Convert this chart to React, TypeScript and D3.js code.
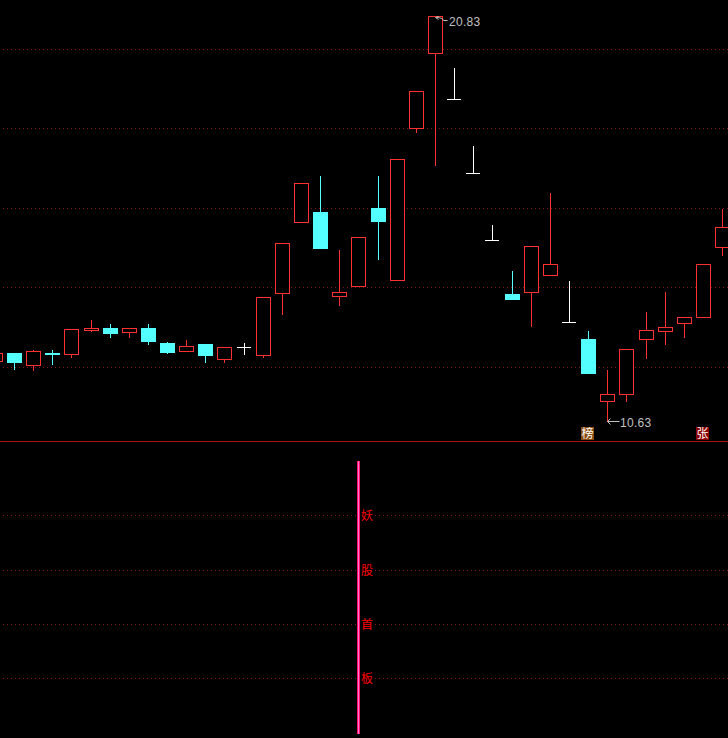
import React from "react";
import * as d3 from "d3";

const W = 728;
const H = 738;

// index -1 is the half-visible candle at the left edge
const indices = d3.range(-1, 38);
const opens = [12.15,12.35,12.05,12.35,12.33,12.93,12.98,12.88,12.98,12.60,12.40,12.58,12.20,12.50,12.30,13.86,15.65,15.90,13.79,14.04,16.00,14.19,18.01,19.90,18.74,16.88,15.20,13.84,13.89,14.31,13.13,12.70,11.14,11.32,12.70,12.91,13.11,13.26,15.02];
const closes = [12.35,12.13,12.40,12.33,12.96,12.98,12.86,12.98,12.65,12.38,12.53,12.30,12.50,12.50,13.76,15.12,16.63,14.99,13.89,15.27,15.67,17.23,18.94,20.83,18.74,16.88,15.20,13.71,15.04,14.59,13.13,11.85,11.32,12.45,12.93,13.01,13.26,14.59,15.52];
const highs = [12.35,12.35,12.43,12.43,12.96,13.18,13.08,12.98,13.08,12.63,12.68,12.58,12.50,12.60,13.76,15.12,16.63,16.80,14.94,15.27,16.80,17.23,18.94,20.83,19.52,17.56,15.57,14.42,15.04,16.38,14.16,12.91,11.92,12.45,13.38,13.89,13.26,14.59,15.97];
const lows = [12.15,11.95,11.92,12.08,12.25,12.91,12.75,12.75,12.58,12.35,12.40,12.13,12.13,12.33,12.25,13.33,15.65,14.99,13.56,14.04,14.72,14.19,17.91,17.08,18.74,16.88,15.20,13.71,13.03,14.31,13.13,11.85,10.63,11.14,12.23,12.58,12.75,13.26,14.82];

const priceTicks = [12, 14, 16, 18, 20];
const lowerTickRows = [515, 570, 624, 678];
const signalChars = ["妖", "股", "首", "板"];

const maxLabel = { index: 22, price: 20.83 };
const minLabel = { index: 31, price: 10.63 };
const tags = [
  { index: 30, text: "榜", fill: "#8a4b10" },
  { index: 36, text: "张", fill: "#8b0000" },
];

const RED = "#ff3232";
const CYAN = "#54ffff";
const WHITE = "#ffffff";
const GRID = "#801414";
const LABEL = "#c0c0c0";

const x = d3.scaleLinear().domain([0, 37]).range([14.43, 722.7025]);
const y = d3.scaleLinear().domain([12, 20]).range([367.5, 49.5]);
const row = (p: number) => Math.floor(y(p)) + 0.5;
const gridRow = (p: number) => Math.floor(y(p) - 0.3) + 0.5;
const col = (i: number) => Math.floor(x(i)) + 0.5;

function Candle({ k }: { k: number }) {
  const i = indices[k];
  const o = opens[k];
  const c = closes[k];
  const cx = col(i);
  const top = row(Math.max(o, c));
  const bot = row(Math.min(o, c));
  const hi = row(highs[k]);
  const lo = row(lows[k]);
  const color = c > o ? RED : c < o ? CYAN : WHITE;
  const left = cx - 7;
  const w = 14;
  return (
    <g>
      {hi < top && <line x1={cx} x2={cx} y1={hi - 0.5} y2={top} stroke={color} />}
      {lo > bot && <line x1={cx} x2={cx} y1={bot} y2={lo + 0.5} stroke={color} />}
      {c > o && <rect x={left} y={top} width={w} height={bot - top} fill="#000" stroke={color} />}
      {c < o && <rect x={left - 0.5} y={top - 0.5} width={w + 1} height={bot - top + 1} fill={color} />}
      {c === o && <line x1={left - 0.5} x2={left + w - 0.5} y1={top} y2={top} stroke={color} />}
    </g>
  );
}

export default function App() {
  const maxX = col(maxLabel.index);
  const maxY = row(maxLabel.price);
  const minX = col(minLabel.index);
  const minY = row(minLabel.price);
  return (
    <svg
      width={W}
      height={H}
      viewBox={`0 0 ${W} ${H}`}
      style={{ position: "fixed", left: 0, top: 0, display: "block", background: "#000" }}
      fontFamily="Liberation Sans, Arial, sans-serif"
    >
      <rect width={W} height={H} fill="#000" />
      {priceTicks.map((t) => (
        <line key={t} x1={3} x2={W} y1={gridRow(t)} y2={gridRow(t)} stroke={GRID} strokeDasharray="1 3" />
      ))}
      {lowerTickRows.map((r) => (
        <line key={r} x1={3} x2={W} y1={r + 0.5} y2={r + 0.5} stroke={GRID} strokeDasharray="1 3" />
      ))}
      <line x1={0} x2={W} y1={441.5} y2={441.5} stroke="#a01515" />

      {indices.map((_, k) => (
        <Candle key={k} k={k} />
      ))}

      {/* highest price marker */}
      <path
        d={`M${maxX} ${maxY + 1} l3 -1 m-3 1 l3 2 M${maxX + 1} ${maxY + 1} q6 0 7 3 l4 0`}
        fill="none"
        stroke={LABEL}
      />
      <text x={449} y={26} fontSize={12} fill={LABEL} letterSpacing={0.3}>
        {maxLabel.price.toFixed(2)}
      </text>

      {/* lowest price marker */}
      <path d={`M${minX} ${minY} h12 M${minX} ${minY} l3 -3 M${minX} ${minY} l3 3`} fill="none" stroke={LABEL} />
      <text x={620} y={427} fontSize={12} fill={LABEL} letterSpacing={0.3}>
        {minLabel.price.toFixed(2)}
      </text>

      {tags.map((t) => (
        <g key={t.text}>
          <rect x={col(t.index) - 7.5} y={427} width={13} height={13} fill={t.fill} />
          <text
            x={col(t.index) - 1}
            y={438}
            fontSize={12}
            textAnchor="middle"
            fill="#fff"
            fontFamily="Noto Sans CJK SC"
          >
            {t.text}
          </text>
        </g>
      ))}

      {/* signal line and vertical text */}
      <rect x={357} y={461} width={3} height={273} fill="#ff1060" />
      <rect x={358} y={461} width={1} height={273} fill="#ff70e0" />
      {signalChars.map((ch, i) => (
        <g key={ch}>
          <rect x={360} y={lowerTickRows[i] - 6} width={15} height={13} fill="#000" />
          <text
            x={361}
            y={lowerTickRows[i] + 5}
            fontSize={12}
            fill="#ff0000"
            fontFamily="Noto Sans CJK SC"
          >
            {ch}
          </text>
        </g>
      ))}
    </svg>
  );
}
